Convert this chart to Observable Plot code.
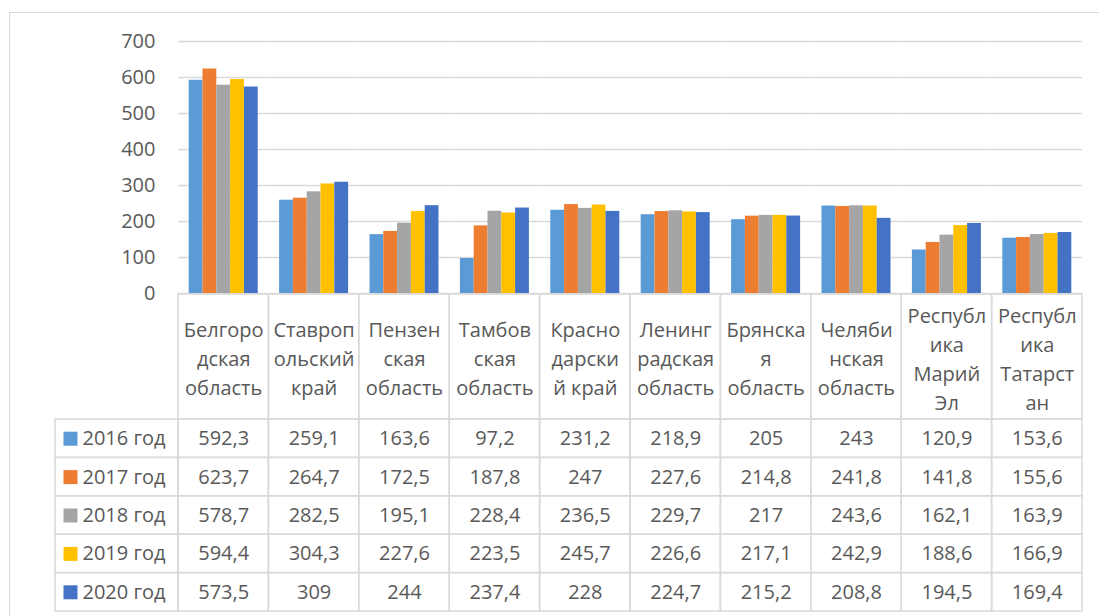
<!DOCTYPE html>
<html>
<head>
<meta charset="utf-8">
<script src="https://cdn.jsdelivr.net/npm/d3@7"></script>
<script src="https://cdn.jsdelivr.net/npm/@observablehq/plot@0.6"></script>
<style>
  html, body { margin: 0; padding: 0; background: #ffffff; }
  #wrap { position: relative; width: 1099px; height: 616px; overflow: hidden; background: #fff; }
  #border { position: absolute; left: 9px; top: 12px; width: 1100px; height: 620px;
            border-left: 1.5px solid #D9D9D9; border-top: 1.5px solid #D9D9D9; }
  .layer { position: absolute; left: 0; }
</style>
</head>
<body>
<div id="wrap">
  <div id="border"></div>
  <div id="p1" class="layer" style="top:0px"></div>
  <div id="p2" class="layer" style="top:294px"></div>
  <div id="p3" class="layer" style="top:419px"></div>
</div>
<script>
const categories = [
  "Белгородская область", "Ставропольский край", "Пензенская область",
  "Тамбовская область", "Краснодарский край", "Ленинградская область",
  "Брянская область", "Челябинская область", "Республика Марий Эл", "Республика Татарстан"
];
const headerLabels = [
  "Белгоро\nдская\nобласть", "Ставроп\nольский\nкрай", "Пензен\nская\nобласть",
  "Тамбов\nская\nобласть", "Красно\nдарски\nй край", "Ленинг\nрадская\nобласть",
  "Брянска\nя\nобласть", "Челяби\nнская\nобласть", "Республ\nика\nМарий\nЭл", "Республ\nика\nТатарст\nан"
];
const years = ["2016 год", "2017 год", "2018 год", "2019 год", "2020 год"];
const values2016 = [592.3, 259.1, 163.6, 97.2, 231.2, 218.9, 205, 243, 120.9, 153.6];
const values2017 = [623.7, 264.7, 172.5, 187.8, 247, 227.6, 214.8, 241.8, 141.8, 155.6];
const values2018 = [578.7, 282.5, 195.1, 228.4, 236.5, 229.7, 217, 243.6, 162.1, 163.9];
const values2019 = [594.4, 304.3, 227.6, 223.5, 245.7, 226.6, 217.1, 242.9, 188.6, 166.9];
const values2020 = [573.5, 309, 244, 237.4, 228, 224.7, 215.2, 208.8, 194.5, 169.4];
const yTicks = [0, 100, 200, 300, 400, 500, 600, 700];
const colors = ["#5B9BD5", "#ED7D31", "#A5A5A5", "#FFC000", "#4472C4"];

const seriesValues = [values2016, values2017, values2018, values2019, values2020];
const table = [];
years.forEach((yr, s) => categories.forEach((c, i) => table.push({category: c, year: yr, value: seriesValues[s][i]})));

const fmt = v => String(v).replace(".", ",");
const textColor = "#595959";
const gridColor = "#D9D9D9";
const FS = 20;
const style = {fontFamily: "'Open Sans', sans-serif", fontSize: FS + "px", color: textColor, background: "transparent", overflow: "visible"};
const W = 1099, ML = 178, MR = 17;
const band = (W - ML - MR) / categories.length;

// Bars
const p1 = Plot.plot({
  width: W, height: 294, marginTop: 41, marginBottom: 1, marginLeft: ML, marginRight: MR,
  style,
  fx: {domain: categories, paddingInner: 0, paddingOuter: 0, round: false, axis: null},
  x: {domain: years, paddingInner: 0, paddingOuter: 0.775, round: false, axis: null},
  y: {domain: [0, 700], label: null},
  color: {domain: years, range: colors},
  marks: [
    Plot.gridY(yTicks, {stroke: gridColor, strokeOpacity: 1, strokeWidth: 1.5}),
    Plot.axisY(yTicks, {tickSize: 0, tickPadding: 23, fontSize: FS, fill: textColor, label: null}),
    Plot.barY(table, {fx: "category", x: "year", y: "value", fill: "year"})
  ]
});
document.getElementById("p1").appendChild(p1);

// Header row with category labels
const p2 = Plot.plot({
  width: W, height: 125, marginTop: 0, marginBottom: 0, marginLeft: ML, marginRight: MR,
  style,
  x: {domain: categories, padding: 0, round: false, axis: null},
  marks: [
    Plot.cell(categories, {x: d => d, fill: "none", stroke: gridColor, strokeWidth: 1.5}),
    Plot.text(categories, {x: d => d, text: (d, i) => headerLabels[i], frameAnchor: "middle",
      lineHeight: 1.45, fontSize: FS, fill: textColor})
  ]
});
document.getElementById("p2").appendChild(p2);

// Data rows
const p3 = Plot.plot({
  width: W, height: 193, marginTop: 0, marginBottom: 1, marginLeft: ML, marginRight: MR,
  style,
  x: {domain: categories, padding: 0, round: false, axis: null},
  y: {domain: years, padding: 0, round: false, axis: null},
  color: {domain: years, range: colors},
  marks: [
    Plot.cell(table, {x: "category", y: "year", fill: "none", stroke: gridColor, strokeWidth: 1.5}),
    Plot.cell(years, {x: () => categories[0], y: d => d, insetLeft: -(ML - 55), insetRight: band,
      fill: "none", stroke: gridColor, strokeWidth: 1.5}),
    Plot.text(table, {x: "category", y: "year", text: d => fmt(d.value), fontSize: FS, fill: textColor}),
    Plot.dot(years, {y: d => d, frameAnchor: "left", dx: -108, symbol: "square", r: 7.9, fill: d => d}),
    Plot.text(years, {y: d => d, frameAnchor: "left", dx: -96, textAnchor: "start", text: d => d,
      fontSize: FS, fill: textColor})
  ]
});
document.getElementById("p3").appendChild(p3);
</script>
</body>
</html>
